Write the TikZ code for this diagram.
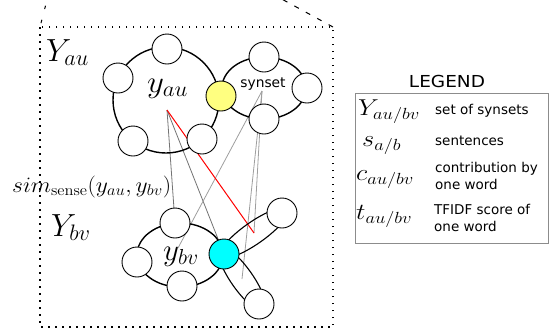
\documentclass[tikz,border=0pt]{standalone}
\usepackage{fix-cm}
\usepackage[no-math]{fontspec}
\newfontfamily\dv{DejaVu Sans}
\usetikzlibrary{backgrounds,shapes.geometric}
\definecolor{cyanfill}{RGB}{0,255,255}
\definecolor{yellowfill}{RGB}{255,255,128}
\newcommand{\hs}[2]{\scalebox{#1}[1]{#2}}
\begin{document}
\begin{tikzpicture}[x=1pt,y=-1pt,
  word/.style={circle,draw,fill=white,minimum size=30pt,inner sep=0pt,line width=0.9pt},
  setring/.style={ellipse,draw,line width=1.4pt,inner sep=0pt},
  lobe/.style={ellipse,draw,line width=1.1pt,inner sep=0pt},
  darkln/.style={draw=black!55,line width=0.8pt},
  lightln/.style={draw=black!38,line width=0.8pt},
  redln/.style={draw=red,line width=1pt},
  lab/.style={inner sep=0pt,anchor=base west},
  legtxt/.style={inner sep=0pt,anchor=base west,font=\dv\fontsize{13.5}{16}\selectfont},
  legmath/.style={inner sep=0pt,anchor=base west,font=\fontsize{23}{26}\selectfont}
]
\useasboundingbox (0,0) rectangle (549,330);

% outer dotted frame and dashed perspective lines
\draw[line width=1.2pt,dash pattern=on 1.5pt off 5.5pt] (40,27) rectangle (333,327);
\coordinate (tl) at (40,27);
\coordinate (tr) at (333,27);
\coordinate (tlend) at (47,0);
\coordinate (trend) at (278,-3);
\draw[line width=1pt,dash pattern=on 3.5pt off 11pt,dash phase=10.5pt] (tl) -- (tlend);
\draw[line width=1pt,dash pattern=on 5pt off 8pt] (tr) -- (trend);

% set rings
\node[setring,minimum width=106pt,minimum height=106pt] (ringA) at (166,100) {};
\node[setring,minimum width=84pt,minimum height=62pt] (ringS) at (264,88) {};
\node[setring,minimum width=86pt,minimum height=64pt] (ringB) at (180,255) {};
\node[lobe,minimum width=82pt,minimum height=22pt,rotate=35] (lobeA) at (254,233) {};
\node[lobe,minimum width=76pt,minimum height=22pt,rotate=-55] (lobeB) at (242,279) {};

% word circles of y_au
\node[word] (a1) at (167,49) {};
\node[word] (a2) at (118,78) {};
\node[word] (a3) at (133,141) {};
\node[word] (a4) at (202,139) {};
\node[word,fill=yellowfill] (ay) at (221,96) {};
\node[word] (s1) at (264,57) {};
\node[word] (s2) at (307,88) {};
\node[word] (s3) at (264,119) {};

% word circles of y_bv
\node[word] (b1) at (175,223) {};
\node[word] (b2) at (137,262) {};
\node[word] (b3) at (182,286) {};
\node[word,fill=cyanfill] (bc) at (224,254) {};
\node[word] (b4) at (282,213) {};
\node[word] (b5) at (259,304) {};

% labels
\node[lab,font=\fontsize{32}{36}\selectfont] (Yau) at (46,61) {$Y_{au}$};
\node[lab,font=\fontsize{32}{36}\selectfont] (Ybv) at (51,236) {$Y_{bv}$};
\node[lab,font=\fontsize{31}{34}\selectfont] (yau) at (147,92) {\hs{1.06}{$y_{au}$}};
\node[lab,font=\fontsize{31}{34}\selectfont] (ybv) at (163,260) {$y_{bv}$};
\node[lab,font=\dv\fontsize{13.8}{16}\selectfont,anchor=base] (syn) at (263,87) {synset};
\node[lab,font=\fontsize{22}{26}\selectfont] (sim) at (12,192) {\hs{1.07}{$sim_{\mathrm{sense}}(y_{au},y_{bv})$}};

\coordinate (pa) at (167,110);
\coordinate (ps) at (262,91);
\coordinate (pb) at (178,248);

\begin{scope}[on background layer]
  \draw[darkln] (pa) -- (b1.center);
  \draw[darkln] (pa) -- (bc.center);
  \draw[lightln] (ps) -- (pb);
  \draw[lightln] (ps) -- (lobeA.center);
  \draw[lightln] (ps) -- (lobeB.center);
  \draw[redln] (pa) -- (lobeA.center);
\end{scope}

% legend
\node[inner sep=0pt,anchor=base,font=\dv\fontsize{16.5}{19}\selectfont] (legtitle) at (447,87) {\hs{1.12}{LEGEND}};
\draw[draw=black!45,line width=1pt] (355,93) rectangle (548,243);
\node[legmath] (m1) at (358,115) {\hs{1.15}{$Y_{au/bv}$}};
\node[legmath] (m2) at (362,146) {\hs{1.15}{$s_{a/b}$}};
\node[legmath] (m3) at (356,180) {\hs{1.15}{$c_{au/bv}$}};
\node[legmath] (m4) at (356,219) {\hs{1.15}{$t_{au/bv}$}};
\node[legtxt] (t1) at (435,114) {set of synsets};
\node[legtxt] (t2) at (435,145) {sentences};
\node[legtxt] (t3) at (435,172) {contribution by};
\node[legtxt] (t3b) at (435,189) {one word};
\node[legtxt] (t4) at (434,214) {TFIDF score of};
\node[legtxt] (t4b) at (434,231) {one word};
\end{tikzpicture}
\end{document}
